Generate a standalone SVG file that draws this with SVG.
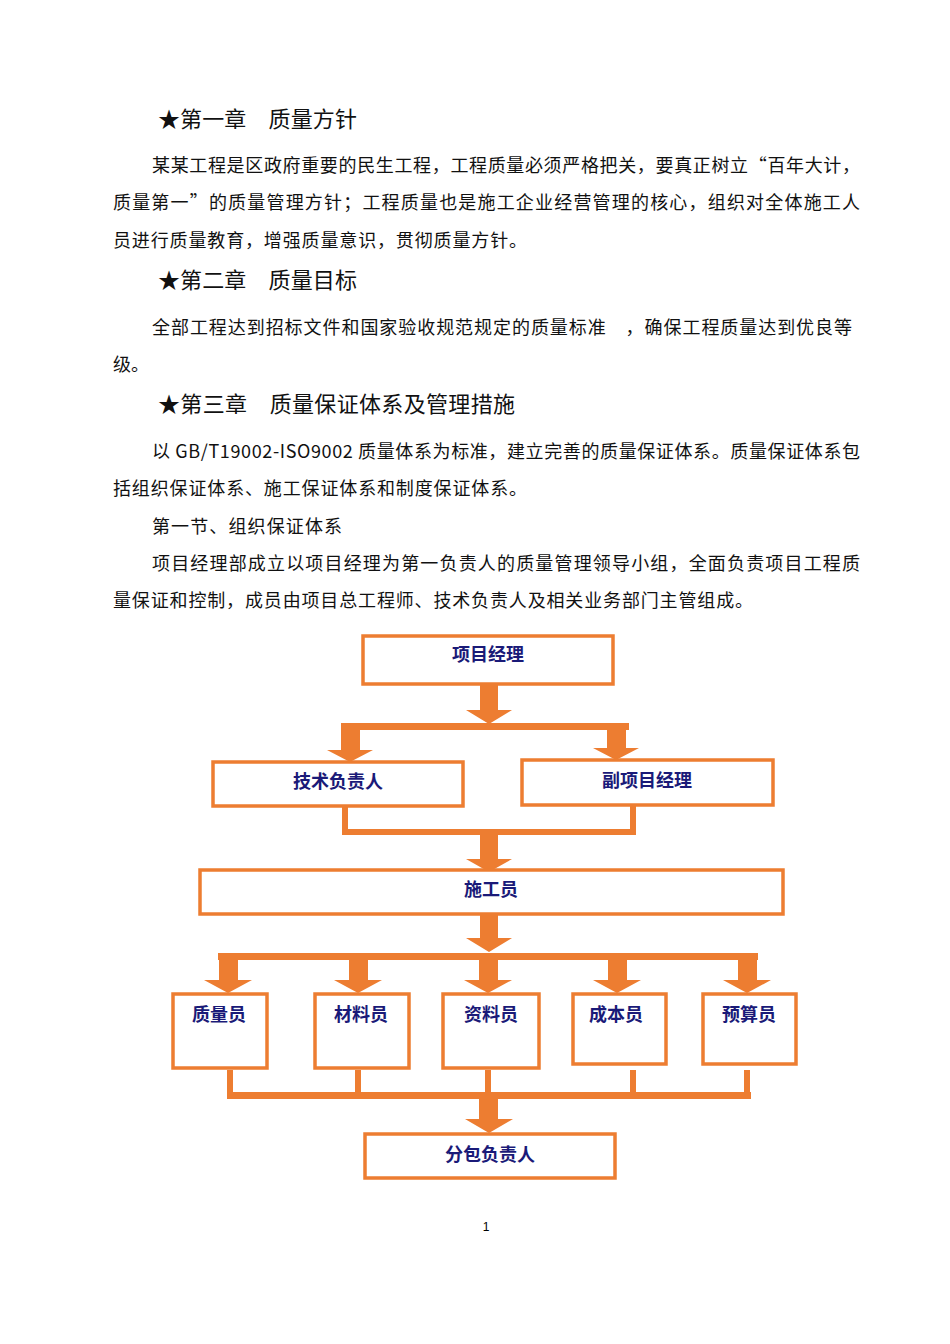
<svg xmlns="http://www.w3.org/2000/svg" width="950" height="1344" viewBox="0 0 950 1344">
<style>
.t{font-family:"Noto Sans CJK SC","Liberation Serif",serif;font-size:18px;fill:#111}
.h{font-family:"Noto Sans CJK SC","Liberation Serif",serif;font-size:22px;fill:#111}
.box{fill:#fff;stroke:#ED7D31;stroke-width:3.5}
.lab{font-family:"Noto Sans CJK SC","Liberation Sans",sans-serif;font-size:18px;font-weight:bold;fill:#1a1a78;text-anchor:middle}
.ln{fill:none;stroke:#ED7D31;stroke-width:6}
.ar{fill:#ED7D31}
</style>
<rect width="950" height="1344" fill="#fff"/>
<text class="h" x="158" y="127" textLength="199">★第一章　质量方针</text>
<text class="t" x="152" y="172" textLength="708">某某工程是区政府重要的民生工程，工程质量必须严格把关，要真正树立“百年大计，</text>
<text class="t" x="113" y="209" textLength="747">质量第一”的质量管理方针；工程质量也是施工企业经营管理的核心，组织对全体施工人</text>
<text class="t" x="113" y="247" textLength="414">员进行质量教育，增强质量意识，贯彻质量方针。</text>
<text class="h" x="158" y="288" textLength="199">★第二章　质量目标</text>
<text class="t" x="152" y="334" textLength="700">全部工程达到招标文件和国家验收规范规定的质量标准　，确保工程质量达到优良等</text>
<text class="t" x="113" y="371">级。</text>
<text class="h" x="158" y="412" textLength="357">★第三章　质量保证体系及管理措施</text>
<text class="t" x="152" y="458" textLength="708">以 GB/T19002-ISO9002 质量体系为标准，建立完善的质量保证体系。质量保证体系包</text>
<text class="t" x="113" y="495" textLength="414">括组织保证体系、施工保证体系和制度保证体系。</text>
<text class="t" x="152" y="533" textLength="190">第一节、组织保证体系</text>
<text class="t" x="152" y="570" textLength="708">项目经理部成立以项目经理为第一负责人的质量管理领导小组，全面负责项目工程质</text>
<text class="t" x="113" y="607" textLength="640">量保证和控制，成员由项目总工程师、技术负责人及相关业务部门主管组成。</text>

<g id="connectors">
<path class="ar" d="M480,684h18v26h14l-23,14l-23,-14h14z"/>
<rect class="ar" x="341" y="723" width="288" height="7"/>
<path class="ar" d="M341,730h19v20h13l-23,12l-23,-12h14z"/>
<path class="ar" d="M607,730h19v18h13l-23,12l-23,-12h14z"/>
<path class="ln" d="M345,806v26h288v-27"/>
<path class="ar" d="M480,835h18v24h14l-23,13l-23,-13h14z"/>
<path class="ar" d="M480,914h18v24h14l-23,14l-23,-14h14z"/>
<rect class="ar" x="218" y="953" width="540" height="7"/>
<path class="ar" d="M219,960h19v20h14l-24,13l-24,-13h15z"/>
<path class="ar" d="M349,960h19v20h14l-24,13l-24,-13h15z"/>
<path class="ar" d="M479,960h19v20h14l-24,13l-24,-13h15z"/>
<path class="ar" d="M608,960h19v20h14l-24,13l-24,-13h15z"/>
<path class="ar" d="M738,960h19v20h14l-24,13l-24,-13h15z"/>
<path class="ln" d="M230,1070v25M358,1070v25M488,1070v25M633,1070v25M747,1070v25"/>
<rect class="ar" x="227" y="1092" width="524" height="7"/>
<path class="ar" d="M479,1099h19v20h15l-24,14l-24,-14h14z"/>
</g>

<g id="n1"><rect class="box" x="363" y="636" width="250" height="48"/><text class="lab" x="488" y="661">项目经理</text></g>
<g id="n2"><rect class="box" x="213" y="762" width="250" height="44"/><text class="lab" x="338" y="788">技术负责人</text></g>
<g id="n3"><rect class="box" x="522" y="760" width="251" height="45"/><text class="lab" x="647" y="787">副项目经理</text></g>
<g id="n4"><rect class="box" x="200" y="870" width="583" height="44"/><text class="lab" x="491" y="896">施工员</text></g>
<g id="n5"><rect class="box" x="173" y="994" width="94" height="74"/><text class="lab" x="219" y="1021">质量员</text></g>
<g id="n6"><rect class="box" x="315" y="994" width="94" height="74"/><text class="lab" x="361" y="1021">材料员</text></g>
<g id="n7"><rect class="box" x="443" y="994" width="96" height="74"/><text class="lab" x="491" y="1021">资料员</text></g>
<g id="n8"><rect class="box" x="573" y="994" width="93" height="70"/><text class="lab" x="616" y="1021">成本员</text></g>
<g id="n9"><rect class="box" x="703" y="994" width="93" height="70"/><text class="lab" x="749" y="1021">预算员</text></g>
<g id="n10"><rect class="box" x="365" y="1134" width="250" height="44"/><text class="lab" x="490" y="1161">分包负责人</text></g>
<text x="486" y="1231" font-family="Liberation Sans,sans-serif" font-size="12" text-anchor="middle">1</text>
</svg>
